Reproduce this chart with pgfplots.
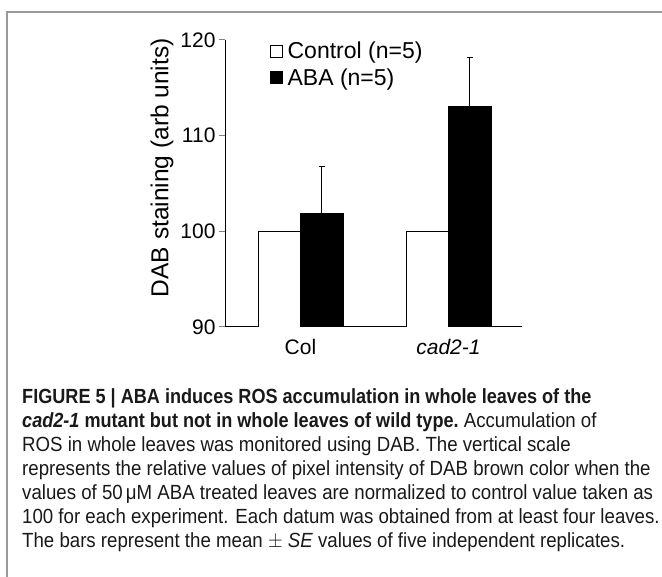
\documentclass[border=0pt]{standalone}
\usepackage{pgfplots}
\pgfplotsset{compat=1.18}
\usepackage{fontspec}
\setmainfont{Liberation Sans}
\newlength{\capw}
\newlength{\capwb}
\newcommand{\capfont}{\fontsize{20.5}{24}\selectfont}
\newcommand{\bsx}{0.97}
\begin{document}
\settowidth{\capw}{\capfont 100 for each experiment. Each datum was obtained from at least four leaves.}%
\settowidth{\capwb}{\capfont represents the relative values of pixel intensity of DAB brown color when the}%
\pgfmathsetmacro{\sx}{1266/(\capw+\capwb)}%
\begin{tikzpicture}[x=1pt,y=1pt]
\path[use as bounding box] (0,0) rectangle (662,577);
\draw[gray!80, line width=1.2pt] (7,0) -- (7,565) -- (662,565);
\begin{axis}[
  at={(225pt,250pt)}, anchor=south west,
  scale only axis, width=297pt, height=287pt,
  ymin=90, ymax=120, ytick={90,100,110,120},
  xmin=-0.51, xmax=1.497,
  axis x line*=bottom, axis y line*=left,
  xtick={0,1}, xticklabels={Col,\textit{cad2-1}},
  x tick style={draw=none},
  xticklabel style={yshift=-3pt},
  tick align=outside, major tick length=6pt,
  axis line style={line width=1pt},
  y tick style={line width=1pt},
  ybar=0pt, bar width=42.5pt,
  tick label style={font=\fontsize{21}{24}\selectfont},
  /pgf/number format/assume math mode=true,
  ylabel={DAB staining (arb units)},
  label style={font=\fontsize{24.5}{28}\selectfont},
  ylabel style={at={(ticklabel cs:0.555)}, anchor=south},
  legend style={draw=none, fill=none, at={(0.152,1.0)}, anchor=north west,
    font=\fontsize{23}{26}\selectfont, row sep=4pt, inner sep=0pt},
  legend cell align=left,
  legend image code/.code={\draw[#1, line width=0.6pt] (0pt,-6pt) rectangle (12pt,6pt); \path[draw=none, fill=none] (0pt,0pt) -- (15pt,0pt);},
]
\addplot[fill=white, draw=black, line width=0.8pt] coordinates {(0,100) (1,100)};
\addplot[fill=black, draw=black, line width=0.8pt,
  error bars/.cd, y dir=plus, y explicit,
  error bar style={line width=1pt, draw=black},
  error mark options={rotate=90, mark size=3.2pt, line width=1pt, draw=black}]
  coordinates {(0,101.86) +- (0,4.95) (1,113.02) +- (0,5.13)};
\legend{Control (n=5), ABA (n=5)}
\end{axis}
\begin{scope}[every node/.style={anchor=base west, inner sep=0pt, text=black!90}]
\node at (22,173) {\scalebox{\sx}[1]{\capfont\scalebox{\bsx}[1]{\textbf{FIGURE 5 | ABA induces ROS accumulation in whole leaves of the}}}};
\node at (22,149) {\scalebox{\sx}[1]{\capfont\scalebox{\bsx}[1]{\textbf{\textit{cad2-1} mutant but not in whole leaves of wild type.}} Accumulation of}};
\node at (22,125) {\scalebox{\sx}[1]{\capfont ROS in whole leaves was monitored using DAB. The vertical scale}};
\node at (22,101) {\scalebox{\sx}[1]{\capfont represents the relative values of pixel intensity of DAB brown color when the}};
\node at (22,77) {\scalebox{\sx}[1]{\capfont values of 50\,μM ABA treated leaves are normalized to control value taken as}};
\node at (22,53) {\scalebox{\sx}[1]{\capfont 100 for each experiment. Each datum was obtained from at least four leaves.}};
\node at (22,29) {\scalebox{\sx}[1]{\capfont The bars represent the mean $\pm$ \textit{SE} values of five independent replicates.}};
\end{scope}
\end{tikzpicture}
\end{document}
